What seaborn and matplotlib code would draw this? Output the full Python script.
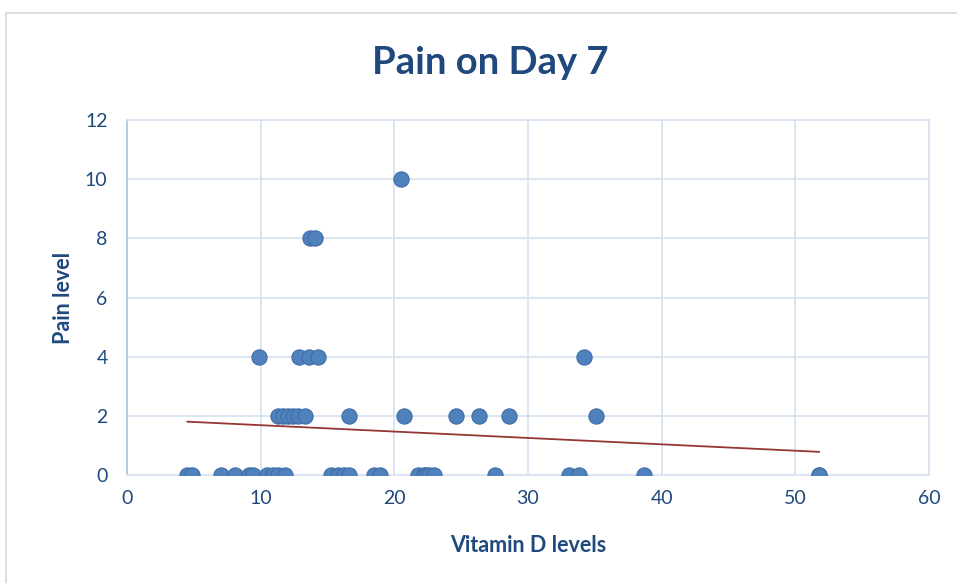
import numpy as np
import pandas as pd
import matplotlib
matplotlib.use("Agg")
import matplotlib.pyplot as plt
import seaborn as sns
from matplotlib.patches import Rectangle

# Data (some overlapping markers hide repeated values)
vitamin_d = [4.5, 4.9, 7.0, 8.1, 9.1, 9.4, 10.45, 10.95, 11.3, 11.8,
             15.3, 15.8, 16.2, 16.6, 18.5, 18.9, 21.8, 22.2, 22.4, 22.6, 23.0,
             27.5, 33.1, 33.8, 38.7, 51.8, 51.8,
             11.3, 11.7, 12.05, 12.4, 12.8, 13.3, 16.6, 20.7, 24.6, 26.3, 28.6, 35.1,
             9.9, 12.9, 13.6, 14.3, 34.2,
             13.7, 14.1,
             20.5]
pain = [0] * 27 + [2] * 12 + [4] * 5 + [8] * 2 + [10]

x_ticks = [0, 10, 20, 30, 40, 50, 60]
y_ticks = [0, 2, 4, 6, 8, 10, 12]

df = pd.DataFrame({"Vitamin D levels": vitamin_d, "Pain level": pain})

sns.set_theme(style="white")
plt.rcParams["font.family"] = ["Lato", "DejaVu Sans"]

grid_c = "#D9E4F2"
title_c = "#1F497D"

fig = plt.figure(figsize=(9.57, 5.83), dpi=100)
fig.patches.append(Rectangle((0.006, -0.02), 1.05, 0.998, transform=fig.transFigure,
                             fill=False, edgecolor="#D9D9D9", linewidth=1.2))
ax = fig.add_axes([0.1327, 0.1852, 0.838, 0.609])

sns.regplot(data=df, x="Vitamin D levels", y="Pain level", ax=ax, ci=None,
            scatter_kws=dict(s=120, color="#4F81BD", edgecolor="#3E6DA6", linewidths=0.8,
                             alpha=1, zorder=3),
            line_kws=dict(color="#943634", linewidth=1.3, zorder=4))

ax.set_xlim(0, 60)
ax.set_ylim(0, 12)
ax.set_xticks(x_ticks)
ax.set_yticks(y_ticks)
ax.grid(True, color=grid_c, linewidth=1.3)
ax.set_axisbelow(True)
for s in ax.spines.values():
    s.set_color(grid_c)
    s.set_linewidth(1.3)
ax.spines["left"].set_color("#B4C8E4")
ax.tick_params(axis="both", length=0, labelsize=14, labelcolor=title_c)
ax.tick_params(axis="y", pad=14)
ax.tick_params(axis="x", pad=11)
ax.set_xlabel("Vitamin D levels", fontsize=15.5, fontweight="bold", color=title_c, labelpad=20)
ax.set_ylabel("Pain level", fontsize=15.5, fontweight="bold", color=title_c, labelpad=8)
fig.text(0.512, 0.892, "Pain on Day 7", ha="center", va="center", fontsize=27.5,
         fontweight="bold", color=title_c)

fig.savefig("out.png", dpi=100)
